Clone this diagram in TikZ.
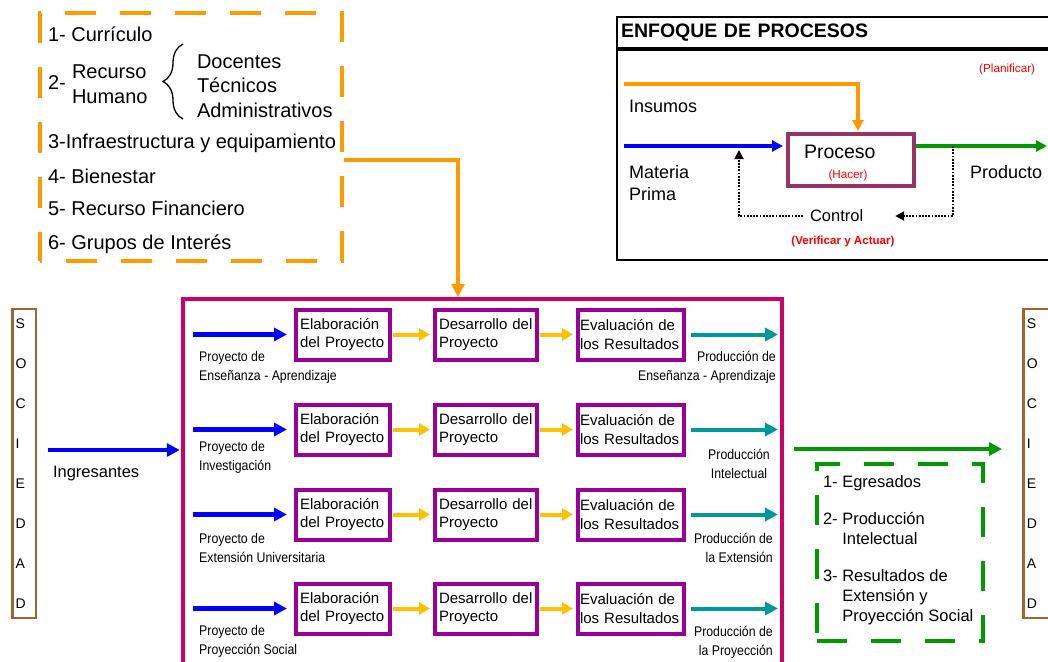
\documentclass[tikz,border=0pt]{standalone}
\usepackage{fontspec}
\setmainfont{Liberation Sans}
\newfontfamily\narrowfont[FakeStretch=0.88]{Liberation Sans}
\usetikzlibrary{arrows.meta,positioning,decorations.pathreplacing}

\definecolor{naranja}{RGB}{255,153,0}
\definecolor{rosa}{RGB}{204,0,102}
\definecolor{morado}{RGB}{153,0,153}
\definecolor{amarillo}{RGB}{255,192,0}
\definecolor{azulc}{RGB}{0,0,255}
\definecolor{turquesa}{RGB}{0,153,153}
\definecolor{verde}{RGB}{0,153,0}
\definecolor{cafe}{RGB}{160,100,50}
\definecolor{vino}{RGB}{153,51,102}

\begin{document}
\begin{tikzpicture}[x=1pt, y=-1pt,
    texto/.style={anchor=west, align=left, inner sep=0pt, outer sep=0pt, font=\fontsize{20}{24.5}\selectfont},
    textoproc/.style={anchor=west, align=left, inner sep=0pt, outer sep=0pt, font=\fontsize{18}{22}\selectfont},
    textoverde/.style={anchor=west, align=left, inner sep=0pt, outer sep=0pt, font=\fontsize{16.5}{20}\selectfont},
    rojito/.style={inner sep=0pt, text=red, font=\fontsize{11.7}{14}\selectfont},
    etiqueta/.style={align=left, inner sep=0pt, font=\narrowfont\fontsize{14}{19}\selectfont},
    paso/.style={draw=morado, line width=4pt, minimum height=50pt, inner xsep=4pt, inner ysep=0pt, outer sep=0pt, align=left, font=\fontsize{15}{18.5}\selectfont},
    letras/.style={draw=cafe, line width=2.5pt, minimum height=309pt, inner xsep=3.5pt, outer sep=0pt, align=left, font=\fontsize{14}{40}\selectfont},
    flechaazul/.style={draw=azulc, line width=4.5pt, -{Triangle[length=13pt,width=13pt]}},
    flechaamarilla/.style={draw=amarillo, line width=4pt, -{Triangle[length=11pt,width=12pt]}, shorten <=3pt, shorten >=5pt},
    flechaturquesa/.style={draw=turquesa, line width=4pt, -{Triangle[length=13pt,width=13pt]}, shorten <=7pt},
    flechaverde/.style={draw=verde, line width=4pt, -{Triangle[length=13pt,width=13pt]}},
    flechanaranja/.style={draw=naranja, line width=4pt, -{Triangle[length=13pt,width=13pt]}},
    fina/.style={line width=3.5pt, -{Triangle[length=11pt,width=11pt]}},
    punteado/.style={draw=black, line width=1.8pt, dash pattern=on 1.8pt off 1.4pt, -{Triangle[length=9pt,width=9pt]}}
]
    \useasboundingbox (0,0) rectangle (1048,661);

    % Recursos (cuadro naranja)
    \node[draw=naranja, line width=3.5pt, dash pattern=on 31pt off 24pt, dash phase=29pt, minimum width=302pt, minimum height=248pt, inner sep=0pt] (recursos) at (191,137) {};
    \node[texto] (curriculo) at (48,34) {1- Currículo};
    \node[texto] (dos) at (48,83) {2-};
    \node[texto] (rrhh) at (72,84) {Recurso\\Humano};
    \draw[decorate, decoration={brace, amplitude=20pt}, line width=1.3pt] (183,119) -- (183,44);
    \node[texto] (personal) at (197,86) {Docentes\\Técnicos\\Administrativos};
    \node[texto] (infra) at (48,143) {3-Infraestructura y equipamiento};
    \node[texto] (bienestar) at (48,176) {4- Bienestar};
    \node[texto] (financiero) at (48,208) {5- Recurso Financiero};
    \node[texto] (grupos) at (48,244) {6- Grupos de Interés};

    % Enfoque de procesos
    \node[draw, line width=2pt, anchor=north west, text width=440pt, inner xsep=4pt, inner ysep=0pt, minimum height=31pt, align=left, font=\bfseries\fontsize{19.5}{23}\selectfont] (titulo) at (616,16) {ENFOQUE DE PROCESOS};
    \node[draw, line width=2pt, anchor=north west, minimum width=448pt, minimum height=210pt, inner sep=0pt] (enfoque) at (titulo.south west) {};
    \draw[line width=3pt] (titulo.south west) -- (titulo.south east);
    \node[draw=vino, line width=3.5pt, minimum width=126pt, minimum height=52pt, inner sep=0pt, outer sep=0pt] (proc) at (851,160) {};
    \node[textoproc, font=\fontsize{19.5}{23}\selectfont] (proctxt) at (804,152) {Proceso};
    \node[rojito] (hacer) at (848,175) {(Hacer)};
    \node[rojito, anchor=west] (planif) at (979,69) {(Planificar)};
    \coordinate (ins) at (624,84);
    \coordinate (mp) at (624,146);
    \coordinate (prod) at (1047,146);
    \draw[flechanaranja, fina, shorten >=3pt] (ins) -| ([xshift=7pt]proc.north);
    \draw[flechaazul, fina, shorten >=5pt] (mp) -- (mp -| proc.west);
    \draw[flechaverde, fina, shorten <=2pt] (proc.east |- mp) -- (prod);
    \node[textoproc] (insumos) at (629,106) {Insumos};
    \node[textoproc] (materia) at (629,183) {Materia\\Prima};
    \node[textoproc] (producto) at (970,172) {Producto};
    \node[textoproc, font=\fontsize{16.5}{20}\selectfont, inner xsep=7pt] (control) at (803,216) {Control};
    \node[rojito, font=\bfseries\fontsize{11.6}{14}\selectfont] (verif) at (843,241) {(Verificar y Actuar)};
    \coordinate (ramal) at (953,146);
    \coordinate (vuelta) at (739,150);
    \draw[punteado] (ramal) |- ([xshift=25pt]control.east);
    \draw[punteado] (control.west) -| (vuelta);

    % Sociedad
    \node[letras, text width=16.5pt] (sociedad1) at (24,463.5) {S\\O\\C\\I\\E\\D\\A\\D};
    \node[letras, text width=33pt] (sociedad2) at (1043.25,463.5) {S\\O\\C\\I\\E\\D\\A\\D};

    % Universidad (cuadro rosa)
    \node[draw=rosa, line width=3.5pt, minimum width=599pt, minimum height=400pt, anchor=north west, inner sep=0pt, outer sep=0pt] (campus) at (182.75,299) {};
    \coordinate (codo) at (458,160);
    \draw[flechanaranja, shorten >=2pt] (recursos.east |- codo) -- (codo) -- (codo |- campus.north);
    \coordinate (ing) at (48,450);
    \draw[flechaazul, shorten >=3pt] (ing) -- (ing -| campus.west);
    \node[textoverde, font=\fontsize{16.5}{20}\selectfont] (ingresantes) at (53,474) {Ingresantes};

    % Fila 1
    \node[paso, text width=86pt] (elab1) at (343,334.5) {Elaboración\\del Proyecto};
    \node[paso, text width=94pt] (des1) at (486,334.5) {Desarrollo del\\Proyecto};
    \node[paso, text width=102pt, inner xsep=2pt] (eval1) at (631,334.5) {Evaluación de\\los Resultados};
    \coordinate (ini1) at (193,334.5);
    \coordinate (fin1) at (778,334.5);
    \draw[flechaazul, shorten >=9pt] (ini1) -- (elab1);
    \draw[flechaamarilla] (elab1) -- (des1);
    \draw[flechaamarilla] (des1) -- (eval1);
    \draw[flechaturquesa] (eval1) -- (fin1);
    \node[etiqueta, anchor=west] (proy1) at (199,367.5) {Proyecto de\\Enseñanza - Aprendizaje};
    \node[etiqueta, anchor=east, align=right] (prod1) at (776,367.5) {Producción de\\Enseñanza - Aprendizaje};

    % Fila 2
    \node[paso, text width=86pt] (elab2) at (343,429.5) {Elaboración\\del Proyecto};
    \node[paso, text width=94pt] (des2) at (486,429.5) {Desarrollo del\\Proyecto};
    \node[paso, text width=102pt, inner xsep=2pt] (eval2) at (631,429.5) {Evaluación de\\los Resultados};
    \coordinate (ini2) at (193,429.5);
    \coordinate (fin2) at (778,429.5);
    \draw[flechaazul, shorten >=9pt] (ini2) -- (elab2);
    \draw[flechaamarilla] (elab2) -- (des2);
    \draw[flechaamarilla] (des2) -- (eval2);
    \draw[flechaturquesa] (eval2) -- (fin2);
    \node[etiqueta, anchor=west] (proy2) at (199,457.5) {Proyecto de\\Investigación};
    \node[etiqueta, align=center] (prod2) at (739,464) {Producción\\Intelectual};

    % Fila 3
    \node[paso, text width=86pt] (elab3) at (343,514.5) {Elaboración\\del Proyecto};
    \node[paso, text width=94pt] (des3) at (486,514.5) {Desarrollo del\\Proyecto};
    \node[paso, text width=102pt, inner xsep=2pt] (eval3) at (631,514.5) {Evaluación de\\los Resultados};
    \coordinate (ini3) at (193,514.5);
    \coordinate (fin3) at (778,514.5);
    \draw[flechaazul, shorten >=9pt] (ini3) -- (elab3);
    \draw[flechaamarilla] (elab3) -- (des3);
    \draw[flechaamarilla] (des3) -- (eval3);
    \draw[flechaturquesa] (eval3) -- (fin3);
    \node[etiqueta, anchor=west] (proy3) at (199,547.5) {Proyecto de\\Extensión Universitaria};
    \node[etiqueta, anchor=east, align=right] (prod3) at (773,548) {Producción de\\la Extensión};

    % Fila 4
    \node[paso, text width=86pt] (elab4) at (343,608.5) {Elaboración\\del Proyecto};
    \node[paso, text width=94pt] (des4) at (486,608.5) {Desarrollo del\\Proyecto};
    \node[paso, text width=102pt, inner xsep=2pt] (eval4) at (631,608.5) {Evaluación de\\los Resultados};
    \coordinate (ini4) at (193,608.5);
    \coordinate (fin4) at (778,608.5);
    \draw[flechaazul, shorten >=9pt] (ini4) -- (elab4);
    \draw[flechaamarilla] (elab4) -- (des4);
    \draw[flechaamarilla] (des4) -- (eval4);
    \draw[flechaturquesa] (eval4) -- (fin4);
    \node[etiqueta, anchor=west] (proy4) at (199,641.5) {Proyecto de\\Proyección Social};
    \node[etiqueta, anchor=east, align=right] (prod4) at (773,642) {Producción de\\la Proyección};

    % Egresados (cuadro verde)
    \coordinate (soc) at (1002,449);
    \draw[flechaverde, shorten <=12pt] (soc -| campus.east) -- (soc);
    \node[draw=verde, line width=3.5pt, dash pattern=on 30pt off 24pt, minimum width=166pt, minimum height=177pt, inner sep=0pt] (egresados) at (900,552.5) {};
    \node[textoverde] (egr) at (823,483) {1- Egresados};
    \node[textoverde] (intel) at (823,528) {2- Producción\\\hphantom{2- }Intelectual};
    \node[textoverde] (result) at (823,597) {3- Resultados de\\\hphantom{3- }Extensión y\\\hphantom{3- }Proyección Social};
\end{tikzpicture}
\end{document}
